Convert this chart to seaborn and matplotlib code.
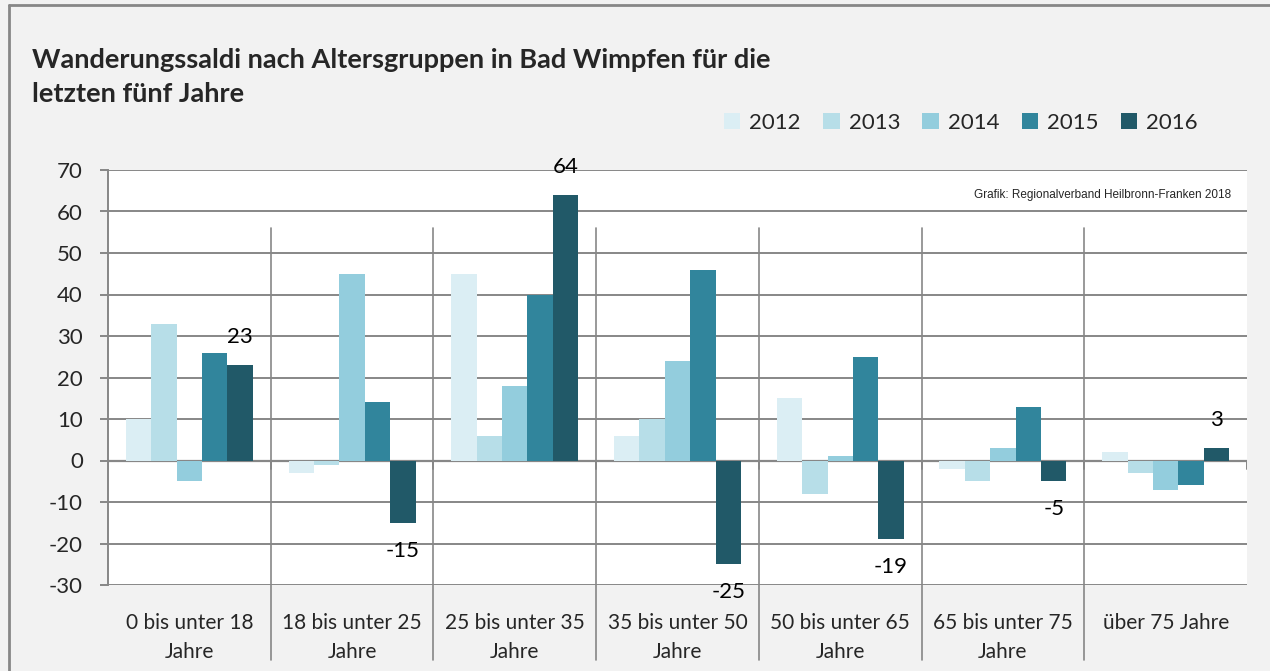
import matplotlib
matplotlib.use("Agg")
import matplotlib.pyplot as plt
from matplotlib.lines import Line2D
import pandas as pd
import seaborn as sns

# data
groups = ["0 bis unter 18\nJahre", "18 bis unter 25\nJahre", "25 bis unter 35\nJahre",
          "35 bis unter 50\nJahre", "50 bis unter 65\nJahre", "65 bis unter 75\nJahre",
          "über 75 Jahre"]
years = ["2012", "2013", "2014", "2015", "2016"]
v2012 = [10, -3, 45, 6, 15, -2, 2]
v2013 = [33, -1, 6, 10, -8, -5, -3]
v2014 = [-5, 45, 18, 24, 1, 3, -7]
v2015 = [26, 14, 40, 46, 25, 13, -6]
v2016 = [23, -15, 64, -25, -19, -5, 3]
colors = ["#DBEEF4", "#B7DEE8", "#93CDDD", "#31859C", "#215968"]
yticks = list(range(-30, 80, 10))

rows = []
for year, vals in zip(years, [v2012, v2013, v2014, v2015, v2016]):
    for g, v in zip(groups, vals):
        rows.append({"Gruppe": g, "Jahr": year, "Saldo": v})
df = pd.DataFrame(rows)

sns.set_theme(style="white")
plt.rcParams["font.family"] = ["Lato", "DejaVu Sans"]
grid_c = "#878787"

fig = plt.figure(figsize=(12.7, 6.71), dpi=100, facecolor="#F2F2F2")
ax = fig.add_axes([108 / 1270, 1 - 585 / 671, (1247 - 108) / 1270, 415 / 671])
ax.set_facecolor("white")

sns.barplot(data=df, x="Gruppe", y="Saldo", hue="Jahr", palette=colors, saturation=1,
            width=0.78, linewidth=0, ax=ax, zorder=3)

ax.set_ylim(-30, 70)
ax.set_xlim(-0.5, 6.5)
ax.set_yticks(yticks)
ax.set_yticklabels([str(t) for t in yticks], fontsize=16)
ax.set_xlabel("")
ax.set_ylabel("")
ax.tick_params(axis="y", length=6, width=1.4, color=grid_c, pad=12, direction="out", left=True)
ax.tick_params(axis="x", length=0, pad=20)
for lab in ax.get_xticklabels():
    lab.set_fontsize(15)
    lab.set_linespacing(1.6)

ax.yaxis.grid(True, color=grid_c, linewidth=1.4, zorder=0)
ax.set_axisbelow(True)
ax.axhline(0, color=grid_c, linewidth=1.6, zorder=2)
for s in ["top", "right", "bottom"]:
    ax.spines[s].set_visible(False)
ax.spines["left"].set_color(grid_c)
ax.spines["left"].set_linewidth(1.4)

# category separators and small ticks on the zero line
zero_frac = 30 / 100
for b in [i + 0.5 for i in range(len(groups) - 1)]:
    ax.axvline(b, ymin=-0.18, ymax=0.86, color=grid_c, linewidth=1.2, clip_on=False, zorder=1)
for b in [-0.5 + i for i in range(len(groups) + 1)]:
    ax.axvline(b, ymin=zero_frac - 0.02, ymax=zero_frac, color=grid_c, linewidth=1.4, zorder=2)

# value labels for 2016
ax.bar_label(ax.containers[4], fmt="%d", padding=13, fontsize=16, color="black")

handles, labels = ax.get_legend_handles_labels()
ax.get_legend().remove()
fig.legend(handles, labels, loc="center right", bbox_to_anchor=(1218 / 1270, 1 - 123 / 671),
           ncol=5, frameon=False, fontsize=16, handlelength=0.75, handleheight=0.75,
           handletextpad=0.4, columnspacing=1.0)

fig.text(32 / 1270, 1 - 77 / 671,
         "Wanderungssaldi nach Altersgruppen in Bad Wimpfen für die\nletzten fünf Jahre",
         fontsize=19.5, fontweight="bold", ha="left", va="center", linespacing=1.45)
ax.text(0.986, 0.94, "Grafik: Regionalverband Heilbronn-Franken 2018", transform=ax.transAxes,
        fontsize=8.5, family=["Liberation Sans", "DejaVu Sans"], ha="right", va="center")

# outer frame
fig.add_artist(Line2D([9 / 1270, 9 / 1270], [0, 1 - 5 / 671], color=grid_c, linewidth=2))
fig.add_artist(Line2D([9 / 1270, 1], [1 - 5 / 671, 1 - 5 / 671], color=grid_c, linewidth=2))

fig.savefig("out.png", dpi=100, facecolor=fig.get_facecolor())
